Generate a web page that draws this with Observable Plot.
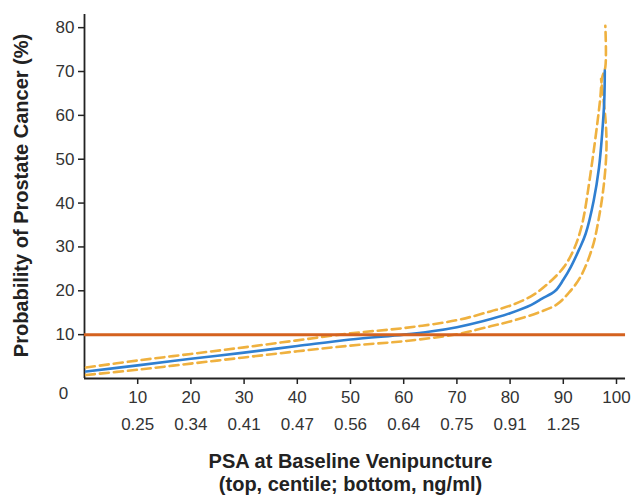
<!DOCTYPE html>
<html>
<head>
<meta charset="utf-8">
<script src="https://cdn.jsdelivr.net/npm/d3@7"></script>
<script src="https://cdn.jsdelivr.net/npm/@observablehq/plot@0.6"></script>
<style>
  body { margin: 0; background: #fff; }
  #chart svg { font-family: "Liberation Sans", Arial, Helvetica, sans-serif; }
</style>
</head>
<body>
<div id="chart"></div>
<script>
// Top axis: PSA centile
const centileTicks = [10, 20, 30, 40, 50, 60, 70, 80, 90, 100];
// Bottom row: PSA values (ng/ml) at centiles 10..90
const psaCentiles = [10, 20, 30, 40, 50, 60, 70, 80, 90];
const psaLabels = ["0.25", "0.34", "0.41", "0.47", "0.56", "0.64", "0.75", "0.91", "1.25"];
const probTicks = [10, 20, 30, 40, 50, 60, 70, 80];

// Estimated probability of prostate cancer (%) by centile
const estCentile = [0.3, 10, 20, 30, 40, 50, 60, 65, 70, 75, 80, 84, 86, 88.5, 90, 91.4, 93, 94.2, 95.7, 96.7, 97.3, 97.7, 97.8];
const estProb    = [1.6, 3.0, 4.5, 5.9, 7.4, 8.9, 10.0, 10.7, 11.7, 13.1, 14.9, 16.8, 18.2, 20.0, 22.5, 25.4, 29.5, 33.0, 40.5, 48.0, 55.8, 63.3, 70.2];

// Upper confidence bound
const upperCentile = [0.3, 10, 20, 30, 40, 50, 60, 70, 76.3, 80, 84, 87, 90.1, 92, 93.5, 95.1, 96.9, 97.3, 97.9, 97.9];
const upperProb    = [2.5, 4.1, 5.6, 7.1, 8.7, 10.3, 11.5, 13.3, 15.3, 16.6, 18.8, 21.5, 25.4, 29.5, 35.0, 46.6, 63.3, 68.6, 71.0, 80.4];

// Lower confidence bound
const lowerCentile = [0.3, 10, 20, 30, 40, 50, 60, 70, 76.3, 80, 85.7, 88.8, 91, 93.2, 95.5, 96.7, 97.6, 98.1, 98.0, 97.1];
const lowerProb    = [0.8, 2.0, 3.4, 4.8, 6.2, 7.5, 8.5, 10.1, 11.9, 13.0, 15.2, 16.9, 19.5, 23.1, 30.0, 36.7, 44.0, 51.9, 58.0, 68.3];

const threshold = 10;

const est = estCentile.map((c, i) => ({c, p: estProb[i]}));
const upper = upperCentile.map((c, i) => ({c, p: upperProb[i]}));
const lower = lowerCentile.map((c, i) => ({c, p: lowerProb[i]}));
const psa = psaCentiles.map((c, i) => ({c, t: psaLabels[i]}));

const ink = "#222";
const chart = Plot.plot({
  width: 633,
  height: 504,
  marginLeft: 84,
  marginRight: 17,
  marginTop: 14,
  marginBottom: 126,
  x: {domain: [0, 100]},
  y: {domain: [0, 83]},
  style: {fontFamily: '"Liberation Sans", Arial, Helvetica, sans-serif', color: "#333", background: "#fff"},
  marks: [
    Plot.axisX({ticks: centileTicks, tickSize: 6, tickPadding: 6, fontSize: 17, label: null, stroke: ink, strokeWidth: 1.5, fill: "#333"}),
    Plot.axisY({ticks: probTicks, tickSize: 6, tickPadding: 4, fontSize: 17, label: null, stroke: ink, strokeWidth: 1.5, fill: "#333"}),
    Plot.ruleY([0], {x1: 0, x2: 101.7, stroke: ink, strokeWidth: 1.8}),
    Plot.ruleX([0], {y1: 0, y2: 83, stroke: ink, strokeWidth: 1.8}),
    Plot.line(upper, {x: "c", y: "p", stroke: "#efb13f", strokeWidth: 2.6, strokeDasharray: "9,5", curve: "catmull-rom"}),
    Plot.line(lower, {x: "c", y: "p", stroke: "#efb13f", strokeWidth: 2.6, strokeDasharray: "9,5", curve: "catmull-rom"}),
    Plot.line(est, {x: "c", y: "p", stroke: "#2f7fd1", strokeWidth: 2.6, curve: "catmull-rom"}),
    Plot.ruleY([threshold], {x1: 0, x2: 101.7, stroke: "#d4621f", strokeWidth: 3}),
    Plot.text(["0"], {x: 0, frameAnchor: "bottom", dy: 20, dx: -21, fontSize: 17, fill: "#333"}),
    Plot.text(psa, {x: "c", text: "t", frameAnchor: "bottom", dy: 51, fontSize: 17, fill: "#333"}),
    Plot.text(["PSA at Baseline Venipuncture"], {frameAnchor: "bottom", dy: 89, fontSize: 20, fontWeight: "bold", fill: "#222"}),
    Plot.text(["(top, centile; bottom, ng/ml)"], {frameAnchor: "bottom", dy: 112, fontSize: 20, fontWeight: "bold", fill: "#222"}),
    Plot.text(["Probability of Prostate Cancer (%)"], {frameAnchor: "left", textAnchor: "middle", dx: -63, dy: -1, rotate: -90, fontSize: 20, fontWeight: "bold", fill: "#222"})
  ]
});
document.getElementById("chart").append(chart);
</script>
</body>
</html>
